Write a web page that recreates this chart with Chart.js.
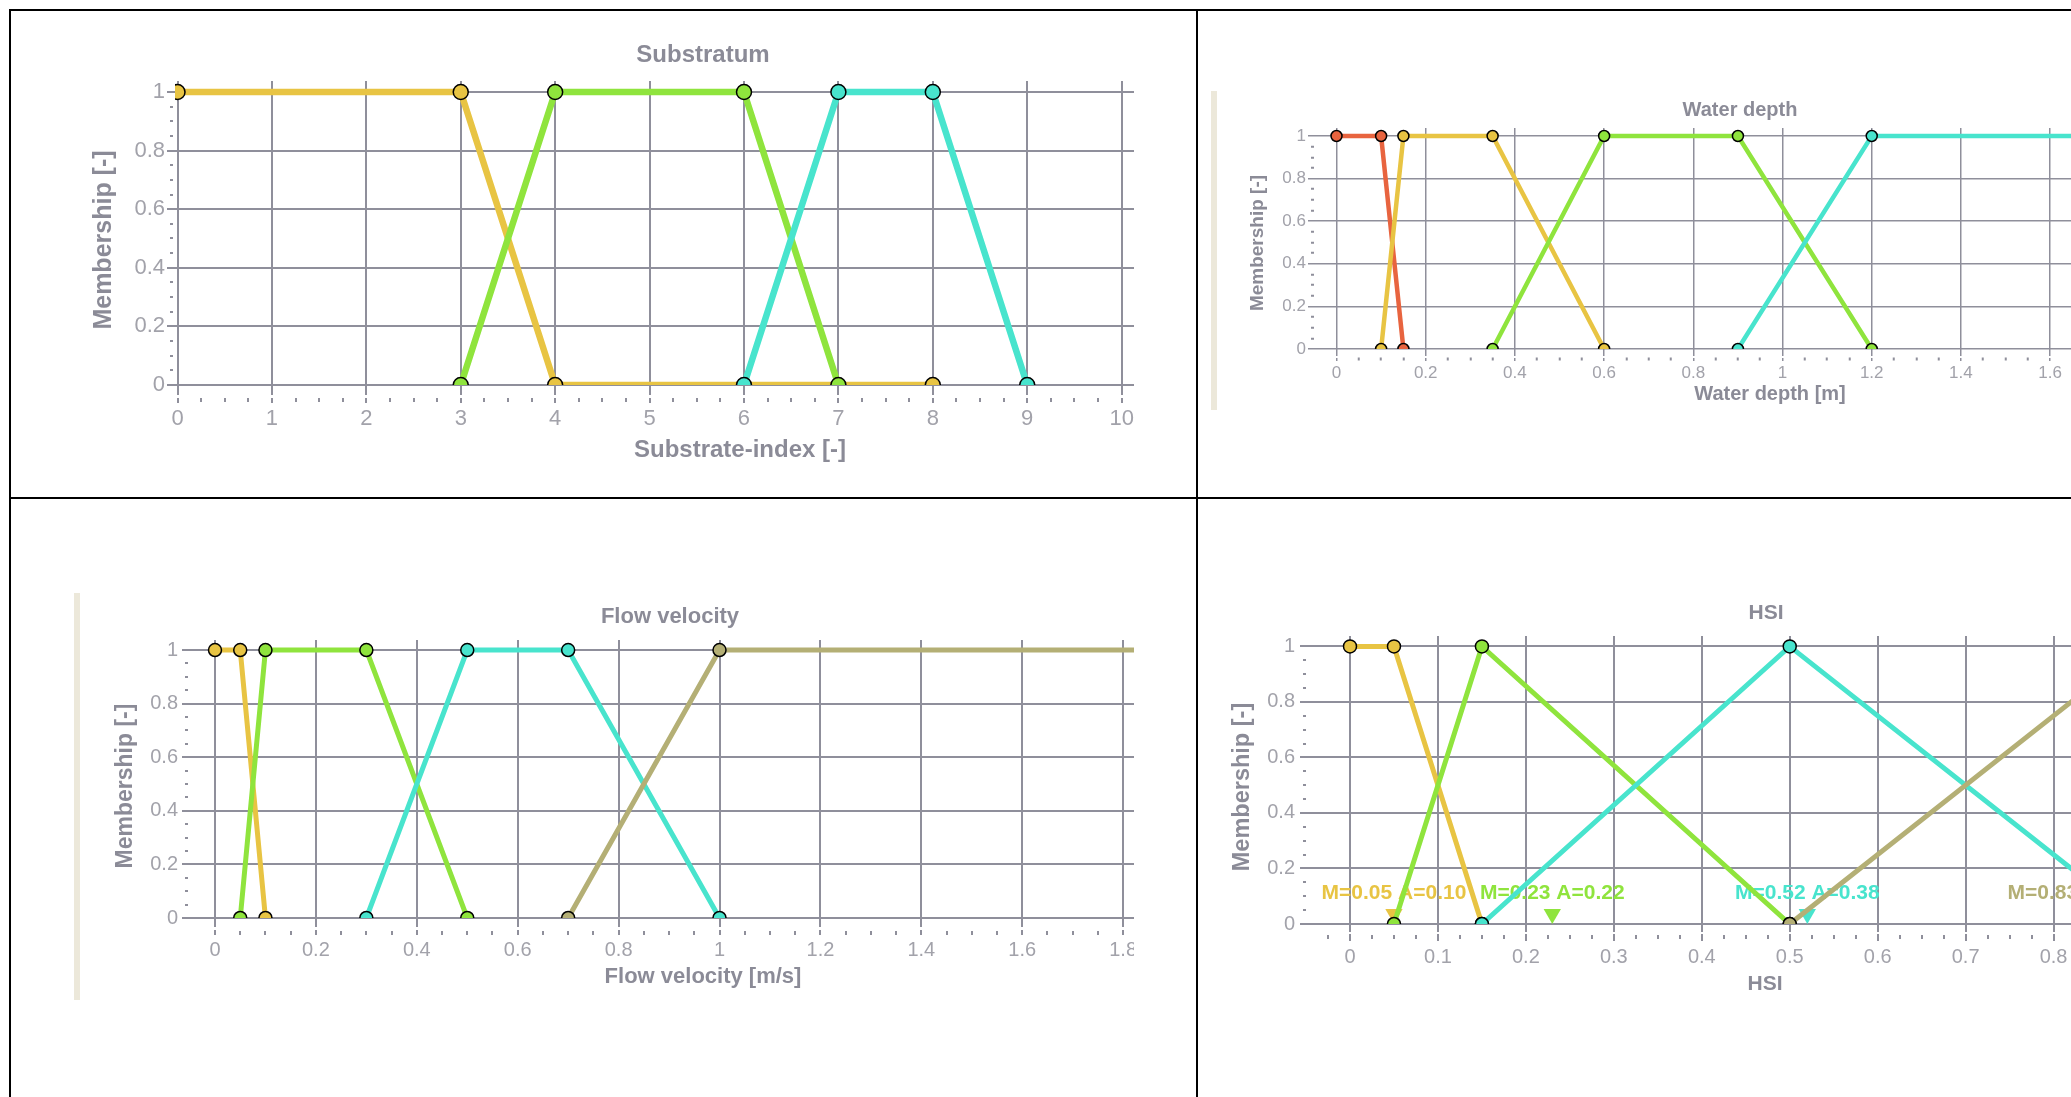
<!DOCTYPE html>
<html>
<head>
<meta charset="utf-8">
<title>Fuzzy membership functions</title>
<script src="https://cdn.jsdelivr.net/npm/chart.js@4.4.1/dist/chart.umd.min.js"></script>
<style>
  html, body { margin: 0; padding: 0; background: #ffffff; }
  body { width: 2071px; height: 1097px; overflow: hidden; position: relative; }
  .rule  { position: absolute; background: #000000; }
  .strip { position: absolute; background: #ece8da; }
  .box   { position: absolute; overflow: hidden; }
  .box canvas { position: absolute; left: 0; top: 0; }
</style>
</head>
<body>
<div class="box" style="left:12px;top:12px;width:1122px;height:484px"><canvas id="cSub"></canvas></div>
<div class="box" style="left:1199px;top:12px;width:872px;height:484px"><canvas id="cDepth"></canvas></div>
<div class="box" style="left:12px;top:500px;width:1122px;height:597px"><canvas id="cVel"></canvas></div>
<div class="box" style="left:1199px;top:500px;width:872px;height:597px"><canvas id="cHsi"></canvas></div>

<!-- table rules -->
<div class="rule" style="left:9px;top:9px;width:2062px;height:2px"></div>
<div class="rule" style="left:9px;top:497px;width:2062px;height:2px"></div>
<div class="rule" style="left:9px;top:9px;width:2px;height:1088px"></div>
<div class="rule" style="left:1196px;top:9px;width:2px;height:1088px"></div>

<!-- image edge strips -->
<div class="strip" style="left:1211px;top:91px;width:6px;height:319px"></div>
<div class="strip" style="left:74px;top:593px;width:6px;height:407px"></div>

<script>
// ---------- Substratum: breakpoints on the substrate index ----------
const subFineX   = [0, 3, 4, 8];
const subFineY   = [1, 1, 0, 0];
const subMediumX = [3, 4, 6, 7];
const subMediumY = [0, 1, 1, 0];
const subCoarseX = [6, 7, 8, 9];
const subCoarseY = [0, 1, 1, 0];

// ---------- Water depth [m] ----------
const depthVeryShallowX = [0, 0.1, 0.15];
const depthVeryShallowY = [1, 1, 0];
const depthShallowX     = [0.1, 0.15, 0.35, 0.6];
const depthShallowY     = [0, 1, 1, 0];
const depthMediumX      = [0.35, 0.6, 0.9, 1.2];
const depthMediumY      = [0, 1, 1, 0];
const depthDeepX        = [0.9, 1.2, 2.0];
const depthDeepY        = [0, 1, 1];

// ---------- Flow velocity [m/s] ----------
const velStillX    = [0, 0.05, 0.1];
const velStillY    = [1, 1, 0];
const velSlowX     = [0.05, 0.1, 0.3, 0.5];
const velSlowY     = [0, 1, 1, 0];
const velModerateX = [0.3, 0.5, 0.7, 1.0];
const velModerateY = [0, 1, 1, 0];
const velFastX     = [0.7, 1.0, 2.0];
const velFastY     = [0, 1, 1];

// ---------- HSI output sets ----------
const hsiLowX      = [0, 0.05, 0.15];
const hsiLowY      = [1, 1, 0];
const hsiModerateX = [0.05, 0.15, 0.5];
const hsiModerateY = [0, 1, 0];
const hsiGoodX     = [0.15, 0.5, 0.9];
const hsiGoodY     = [0, 1, 0];
const hsiHighX     = [0.5, 0.9, 1.0];
const hsiHighY     = [0, 1, 1];
// centroid (M) and area (A) of each HSI set
const hsiCentroid  = [0.05, 0.23, 0.52, 0.83];
const hsiArea      = [0.10, 0.22, 0.38, 0.30];

// membership axis labels every 0.2
const membershipMajor = 0.2;
const membershipMinor = 0.05;

// ---------- styling ----------
const COL = {
  yellow: '#e8c443',
  green:  '#8fe43d',
  cyan:   '#48e4cd',
  red:    '#e8643f',
  khaki:  '#b4af75'
};
const GRID_COLOR  = '#8f8f9b';
const TICK_COLOR  = '#a2a2aa';
const TITLE_COLOR = '#8b8b97';
const FONT = '"Liberation Sans", Arial, Helvetica, sans-serif';
const Y_TOP = 1.0375;          // a little headroom above membership 1
const NOTE_Y = 0.11;           // height of the M/A captions
const MARK_Y = 0.036;          // centre of the centroid pointers

Chart.defaults.font.family = FONT;

function isMajor(v, step) {
  const r = v / step;
  return Math.abs(r - Math.round(r)) < 1e-6;
}
function fmt(v) {
  return String(Math.round(v * 1000) / 1000);
}
function pairs(xs, ys) {
  return xs.map((x, i) => ({ x: x, y: ys[i] }));
}

function captionPlugin(items, offX, offY) {
  return {
    id: 'captions',
    afterDraw(chart) {
      const ctx = chart.ctx;
      items.forEach(it => {
        ctx.save();
        ctx.translate(it.x - offX, it.y - offY);
        if (it.rot) ctx.rotate(-Math.PI / 2);
        ctx.font = 'bold ' + it.size + 'px ' + FONT;
        ctx.fillStyle = TITLE_COLOR;
        ctx.textAlign = 'center';
        ctx.textBaseline = 'middle';
        ctx.fillText(it.text, 0, 0);
        ctx.restore();
      });
    }
  };
}

const hsiNotesPlugin = {
  id: 'hsiNotes',
  beforeDatasetsDraw(chart) {
    const { ctx, scales } = chart;
    const colors = [COL.yellow, COL.green, COL.cyan, COL.khaki];
    ctx.save();
    ctx.font = 'bold 21px ' + FONT;
    ctx.textAlign = 'center';
    ctx.textBaseline = 'middle';
    hsiCentroid.forEach((m, i) => {
      ctx.fillStyle = colors[i];
      ctx.fillText('M=' + m.toFixed(2) + ' A=' + hsiArea[i].toFixed(2),
        scales.x.getPixelForValue(m), scales.y.getPixelForValue(NOTE_Y));
    });
    ctx.restore();
  }
};

function buildPanel(p) {
  const canvas = document.getElementById(p.id);
  canvas.width = p.w;
  canvas.height = p.h;
  canvas.style.width = p.w + 'px';
  canvas.style.height = p.h + 'px';

  const n = p.series.length;
  const datasets = p.series.map((s, i) => ({
    data: pairs(s.x, s.y),
    borderColor: s.color,
    backgroundColor: s.color,
    borderWidth: p.line,
    pointRadius: p.point,
    pointStyle: 'circle',
    pointBackgroundColor: s.color,
    pointBorderColor: '#000000',
    pointBorderWidth: 1.5,
    tension: 0,
    fill: false,
    order: n - i + 1
  }));
  if (p.extraDatasets) p.extraDatasets.forEach(d => datasets.push(d));

  const gridColor = step => ctx => (ctx.tick && isMajor(ctx.tick.value, step)) ? GRID_COLOR : 'rgba(0,0,0,0)';
  const tickW = step => ctx => (ctx.tick && isMajor(ctx.tick.value, step)) ? p.grid : 2;

  new Chart(canvas, {
    type: 'line',
    data: { datasets: datasets },
    options: {
      responsive: false,
      maintainAspectRatio: false,
      animation: false,
      devicePixelRatio: 1,
      events: [],
      layout: { autoPadding: false, padding: { left: 0, top: p.padTop, right: 0, bottom: 0 } },
      plugins: { legend: { display: false }, tooltip: { enabled: false }, title: { display: false } },
      scales: {
        x: {
          type: 'linear',
          position: 'bottom',
          min: p.xMin,
          max: p.xMax,
          afterFit: s => { s.height = p.xAxisHeight; s.paddingLeft = 0; s.paddingRight = 0; },
          border: { display: false },
          grid: {
            color: gridColor(p.xMajor),
            lineWidth: p.grid,
            drawTicks: true,
            tickLength: p.xTick.len,
            tickColor: GRID_COLOR,
            tickWidth: tickW(p.xMajor),
            tickBorderDash: ctx => (ctx.tick && isMajor(ctx.tick.value, p.xMajor)) ? p.xTick.major : p.xTick.minor
          },
          ticks: {
            stepSize: p.xMinor,
            autoSkip: false,
            includeBounds: false,
            maxTicksLimit: 1000,
            maxRotation: 0,
            minRotation: 0,
            padding: p.xTick.pad,
            color: TICK_COLOR,
            font: { family: FONT, size: p.tickFont },
            callback: v => isMajor(v, p.xMajor) ? fmt(v) : ''
          }
        },
        y: {
          type: 'linear',
          position: 'left',
          min: 0,
          max: Y_TOP,
          afterFit: s => { s.width = p.yAxisWidth; s.paddingTop = 0; s.paddingBottom = 0; },
          border: { display: false },
          grid: {
            color: gridColor(membershipMajor),
            lineWidth: p.grid,
            drawTicks: true,
            tickLength: 8,
            tickColor: GRID_COLOR,
            tickWidth: tickW(membershipMajor),
            tickBorderDash: ctx => (ctx.tick && isMajor(ctx.tick.value, membershipMajor)) ? [] : [0, 3, 3, 60]
          },
          ticks: {
            stepSize: membershipMinor,
            autoSkip: false,
            includeBounds: false,
            maxTicksLimit: 1000,
            padding: p.yPad,
            color: TICK_COLOR,
            font: { family: FONT, size: p.tickFont },
            callback: v => isMajor(v, membershipMajor) ? fmt(v) : ''
          }
        }
      }
    },
    plugins: [captionPlugin(p.captions, p.left, p.top)].concat(p.plugins || [])
  });
}

// ---------- Substratum ----------
buildPanel({
  id: 'cSub', left: 12, top: 12, w: 1222, h: 484,
  yAxisWidth: 163, padTop: 69, xAxisHeight: 111,
  xMin: -0.0265, xMax: 11.19, xMajor: 1, xMinor: 0.25,
  xTick: { len: 18, pad: 3, major: [10, 3, 5, 60], minor: [0, 13, 4, 60] },
  yPad: 2, tickFont: 22, grid: 2, line: 6.5, point: 7.5,
  series: [
    { x: subFineX,   y: subFineY,   color: COL.yellow },
    { x: subMediumX, y: subMediumY, color: COL.green },
    { x: subCoarseX, y: subCoarseY, color: COL.cyan }
  ],
  captions: [
    { text: 'Substratum', x: 703, y: 55, size: 24 },
    { text: 'Substrate-index [-]', x: 740, y: 450, size: 24 },
    { text: 'Membership [-]', x: 104, y: 240, size: 25, rot: true }
  ]
});

// ---------- Water depth ----------
buildPanel({
  id: 'cDepth', left: 1199, top: 12, w: 1001, h: 484,
  yAxisWidth: 117, padTop: 116, xAxisHeight: 147,
  xMin: -0.046, xMax: 1.936, xMajor: 0.2, xMinor: 0.05,
  xTick: { len: 12, pad: 2, major: [7, 2, 3, 60], minor: [0, 8.5, 3, 60] },
  yPad: 2, tickFont: 17, grid: 1.5, line: 4.5, point: 5.5,
  series: [
    { x: depthVeryShallowX, y: depthVeryShallowY, color: COL.red },
    { x: depthShallowX,     y: depthShallowY,     color: COL.yellow },
    { x: depthMediumX,      y: depthMediumY,      color: COL.green },
    { x: depthDeepX,        y: depthDeepY,        color: COL.cyan }
  ],
  captions: [
    { text: 'Water depth', x: 1740, y: 110, size: 20 },
    { text: 'Water depth [m]', x: 1770, y: 394, size: 20 },
    { text: 'Membership [-]', x: 1258, y: 243, size: 19, rot: true }
  ]
});

// ---------- Flow velocity ----------
buildPanel({
  id: 'cVel', left: 12, top: 500, w: 1222, h: 597,
  yAxisWidth: 178, padTop: 140, xAxisHeight: 179,
  xMin: -0.04955, xMax: 2.0198, xMajor: 0.2, xMinor: 0.05,
  xTick: { len: 17, pad: 3, major: [9, 3, 5, 60], minor: [0, 13, 4, 60] },
  yPad: 4, tickFont: 20, grid: 2, line: 5, point: 6.5,
  series: [
    { x: velStillX,    y: velStillY,    color: COL.yellow },
    { x: velSlowX,     y: velSlowY,     color: COL.green },
    { x: velModerateX, y: velModerateY, color: COL.cyan },
    { x: velFastX,     y: velFastY,     color: COL.khaki }
  ],
  captions: [
    { text: 'Flow velocity', x: 670, y: 617, size: 22 },
    { text: 'Flow velocity [m/s]', x: 703, y: 977, size: 22 },
    { text: 'Membership [-]', x: 126, y: 786, size: 23, rot: true }
  ]
});

// ---------- HSI ----------
buildPanel({
  id: 'cHsi', left: 1199, top: 500, w: 1001, h: 597,
  yAxisWidth: 109, padTop: 136, xAxisHeight: 173,
  xMin: -0.04776, xMax: 0.9665, xMajor: 0.1, xMinor: 0.025,
  xTick: { len: 18, pad: 3, major: [8, 2, 7, 60], minor: [0, 11, 4, 60] },
  yPad: 5, tickFont: 20, grid: 2, line: 5, point: 6.5,
  series: [
    { x: hsiLowX,      y: hsiLowY,      color: COL.yellow },
    { x: hsiModerateX, y: hsiModerateY, color: COL.green },
    { x: hsiGoodX,     y: hsiGoodY,     color: COL.cyan },
    { x: hsiHighX,     y: hsiHighY,     color: COL.khaki }
  ],
  extraDatasets: [{
    // downward pointers at each centroid
    data: hsiCentroid.map(m => ({ x: m, y: MARK_Y })),
    showLine: false,
    pointStyle: 'triangle',
    rotation: 180,
    pointRadius: 10,
    pointBorderWidth: 0,
    pointBackgroundColor: [COL.yellow, COL.green, COL.cyan, COL.khaki],
    borderColor: 'rgba(0,0,0,0)',
    order: 50
  }],
  plugins: [hsiNotesPlugin],
  captions: [
    { text: 'HSI', x: 1766, y: 613, size: 21 },
    { text: 'HSI', x: 1765, y: 984, size: 21 },
    { text: 'Membership [-]', x: 1243, y: 787, size: 23.5, rot: true }
  ]
});
</script>
</body>
</html>
